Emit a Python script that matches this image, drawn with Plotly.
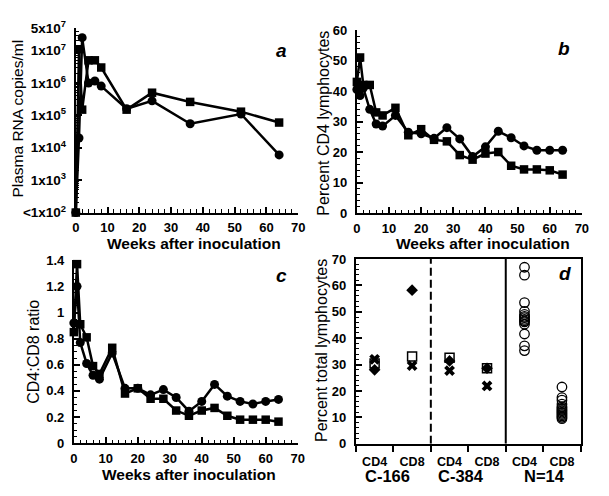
import plotly.graph_objects as go

# The page body has an 8px default margin, so the figure is placed at (8, 8)
OFF = 8
W, H = 609 - OFF, 496 - OFF
FONT = "Liberation Sans, Arial, Helvetica, sans-serif"

# ---------------- Data ----------------
# Panel a: plasma RNA copies/ml
weeks_a = [0, 1, 2, 4, 6, 8, 16, 24, 36, 52, 64]
rna_circle = [1e2, 2e4, 2.5e7, 1.0e6, 1.15e6, 8e5, 1.6e5, 2.8e5, 5.5e4, 1.1e5, 6e3]
rna_square = [1e2, 1.1e7, 1.5e5, 5e6, 5e6, 3e6, 1.5e5, 5e5, 2.6e5, 1.3e5, 6e4]
rna_tickvals = [1e2, 1e3, 1e4, 1e5, 1e6, 1e7, 5e7]
rna_ticktext = ["&lt;1x10<sup>2</sup>", "1x10<sup>3</sup>", "1x10<sup>4</sup>",
                "1x10<sup>5</sup>", "1x10<sup>6</sup>", "1x10<sup>7</sup>", "5x10<sup>7</sup>"]
week_ticks = [0, 10, 20, 30, 40, 50, 60, 70]

# Panel b / c
weeks_bc = [0, 1, 2, 4, 6, 8, 12, 16, 20, 24, 28, 32, 36, 40, 44, 48, 52, 56, 60, 64]
cd4_circle = [40.5, 38.5, 41, 34, 29.2, 28.5, 32, 26.5, 26, 24.5, 28, 24.3, 18.5, 21.7,
              26.8, 24.7, 22, 20.6, 20.6, 20.6]
cd4_square = [43, 51, 42, 42, 33, 32, 34.5, 25.5, 27.5, 24, 23.5, 19, 17.5, 19.5,
              20, 15.5, 14.3, 14.3, 14, 12.6]
cd4_ticks = [0, 10, 20, 30, 40, 50, 60]

ratio_circle = [0.92, 1.2, 0.77, 0.61, 0.52, 0.49, 0.69, 0.42, 0.42, 0.37, 0.41, 0.35,
                0.245, 0.32, 0.45, 0.36, 0.32, 0.30, 0.32, 0.335]
ratio_square = [0.85, 1.37, 0.91, 0.81, 0.59, 0.53, 0.73, 0.38, 0.42, 0.34, 0.34, 0.25,
                0.21, 0.25, 0.27, 0.21, 0.18, 0.18, 0.18, 0.165]
ratio_ticks = [0, 0.2, 0.4, 0.6, 0.8, 1.0, 1.2, 1.4]
ratio_ticktext = ["0", "0.2", "0.4", "0.6", "0.8", "1", "1.2", "1.4"]

# Panel d
d_tick_labels = ["CD4", "CD8", "CD4", "CD8", "CD4", "CD8"]
d_positions = [0.5, 1.5, 2.5, 3.5, 4.5, 5.5]
d_groups = ["C-166", "C-384", "N=14"]
animal_pos = [0.5, 1.5, 2.5, 3.5]
animal_x = [32.0, 29.6, 27.7, 21.9]
animal_square = [30.4, 33.1, 32.6, 28.6]
animal_diamond = [28.0, 58.2, 31.4, 28.6]
normal_cd4 = [66.9, 63.9, 53.5, 50.2, 49.0, 48.3, 47.8, 47.1, 46.6, 46.2, 45.3, 41.6, 37.1, 35.3]
normal_cd8 = [21.5, 17.5, 16.5, 15.0, 14.0, 13.5, 13.0, 12.5, 12.0, 11.5, 11.0, 10.5, 10.0, 9.5]
total_ticks = [0, 10, 20, 30, 40, 50, 60, 70]


def px_x(p):
    return (p - OFF) / W


def px_y(p):
    return 1 - (p - OFF) / H


def bold(labels):
    return ["<b>%s</b>" % str(t) for t in labels]


fig = go.Figure()

line_style = dict(color="black", width=2.5)


def series(x, y, symbol, xa, ya, size=9):
    fig.add_trace(go.Scatter(
        x=x, y=y, mode="lines+markers", line=line_style,
        marker=dict(symbol=symbol, size=size, color="black"),
        xaxis=xa, yaxis=ya, cliponaxis=False, showlegend=False))


series(weeks_a, rna_circle, "circle", "x", "y")
series(weeks_a, rna_square, "square", "x", "y", 8.5)
series(weeks_bc, cd4_circle, "circle", "x2", "y2")
series(weeks_bc, cd4_square, "square", "x2", "y2", 8.5)
series(weeks_bc, ratio_circle, "circle", "x3", "y3")
series(weeks_bc, ratio_square, "square", "x3", "y3", 8.5)

# panel d points
fig.add_trace(go.Scatter(x=animal_pos, y=animal_square, mode="markers",
                         marker=dict(symbol="square-open", size=9, color="black", line=dict(width=1.5)),
                         xaxis="x4", yaxis="y4", showlegend=False))
fig.add_trace(go.Scatter(x=animal_pos, y=animal_diamond, mode="markers",
                         marker=dict(symbol="diamond", size=9, color="black"),
                         xaxis="x4", yaxis="y4", showlegend=False))
fig.add_trace(go.Scatter(x=animal_pos, y=animal_x, mode="markers",
                         marker=dict(symbol="x", size=9.5, color="black", line=dict(width=0)),
                         xaxis="x4", yaxis="y4", showlegend=False))
fig.add_trace(go.Scatter(x=[d_positions[4]] * len(normal_cd4), y=normal_cd4, mode="markers",
                         marker=dict(symbol="circle-open", size=9.5, color="black", line=dict(width=1.3)),
                         xaxis="x4", yaxis="y4", showlegend=False))
fig.add_trace(go.Scatter(x=[d_positions[5]] * len(normal_cd8), y=normal_cd8, mode="markers",
                         marker=dict(symbol="circle-open", size=9.5, color="black", line=dict(width=1.3)),
                         xaxis="x4", yaxis="y4", showlegend=False))

tickfont = dict(family=FONT, size=13, color="black")
common = dict(showgrid=False, zeroline=False, showline=True, linecolor="black", linewidth=2,
              ticks="inside", tickcolor="black", tickwidth=1.5, ticklen=6, tickfont=tickfont,
              ticklabelstandoff=5)

week_axis = dict(common, range=[0, 70], tickvals=week_ticks, ticktext=bold(week_ticks),
                 ticklabelstandoff=2,
                 minor=dict(dtick=2, tick0=0, ticks="inside", ticklen=3.5, tickwidth=1.2, tickcolor="black"))

minor_log = [m * 10 ** e for e in range(2, 8) for m in range(2, 10) if m * 10 ** e < 5e7]

fig.update_layout(
    width=W, height=H, margin=dict(l=0, r=0, t=0, b=0),
    paper_bgcolor="white", plot_bgcolor="white", showlegend=False,
    xaxis=dict(week_axis, domain=[px_x(73), px_x(299.5)], anchor="y"),
    yaxis=dict(common, type="log", range=[2, 7.69897], domain=[px_y(210), px_y(18.3)], anchor="x",
               tickvals=rna_tickvals, ticktext=bold(rna_ticktext),
               tickfont=dict(tickfont, size=13.5),
               minor=dict(tickmode="array", tickvals=minor_log, ticks="inside", ticklen=3.5,
                          tickwidth=1.2, tickcolor="black")),
    xaxis2=dict(week_axis, domain=[px_x(359.3), px_x(588.5)], anchor="y2"),
    yaxis2=dict(common, range=[0, 60], tickvals=cd4_ticks, ticktext=bold(cd4_ticks),
                domain=[px_y(210.5), px_y(20.5)], anchor="x2",
                minor=dict(dtick=2, ticks="inside", ticklen=3.5, tickwidth=1.2, tickcolor="black")),
    xaxis3=dict(week_axis, domain=[px_x(71), px_x(299)], anchor="y3"),
    yaxis3=dict(common, range=[0, 1.4], tickvals=ratio_ticks, ticktext=bold(ratio_ticktext),
                domain=[px_y(449.5), px_y(259.5)], anchor="x3",
                minor=dict(dtick=0.05, ticks="inside", ticklen=3.5, tickwidth=1.2, tickcolor="black")),
    xaxis4=dict(common, range=[0, 6], domain=[px_x(358.3), px_x(587.3)], anchor="y4", mirror=True,
                tickvals=d_positions, ticktext=bold(d_tick_labels), ticks="", ticklabelstandoff=5,
                tickfont=dict(tickfont, size=12.5),
                minor=dict(tickmode="array", tickvals=[0, 1, 2, 3, 4, 5, 6], ticks="outside",
                           ticklen=6, tickwidth=1.5, tickcolor="black")),
    yaxis4=dict(common, range=[0, 70], tickvals=total_ticks, ticktext=bold(total_ticks),
                domain=[px_y(450), px_y(258.3)], anchor="x4", mirror=True,
                minor=dict(dtick=2, ticks="inside", ticklen=3.5, tickwidth=1.2, tickcolor="black")),
)

# separators in panel d
fig.add_shape(type="line", xref="x4", yref="y4", x0=2, x1=2, y0=0, y1=70,
              line=dict(color="black", width=2, dash="8px,4px"))
fig.add_shape(type="line", xref="x4", yref="y4", x0=4, x1=4, y0=0, y1=70,
              line=dict(color="black", width=2))

ann = []


def text(t, x, y, size, is_bold=False, italic=False, angle=0):
    ann.append(dict(text=t, x=px_x(x), y=px_y(y), xref="paper", yref="paper",
                    showarrow=False, textangle=angle, xanchor="center", yanchor="middle",
                    font=dict(family=FONT, size=size, color="black",
                              weight="bold" if is_bold else "normal",
                              style="italic" if italic else "normal")))


text("Plasma RNA copies/ml", 13.5, 112, 15.5, angle=-90)
text("Percent CD4 lymphocytes", 325, 117.5, 16, angle=-90)
text("CD4:CD8 ratio", 30, 355, 16, angle=-90)
text("Percent total lymphocytes", 324, 353.5, 16, angle=-90)
text("<b>Weeks after inoculation</b>", 193.5, 242.5, 15.5, is_bold=True)
text("<b>Weeks after inoculation</b>", 487.5, 242, 15.5, is_bold=True)
text("<b>Weeks after inoculation</b>", 188.5, 482, 15.5, is_bold=True)
text("<b><i>a</i></b>", 282.7, 41.7, 19, is_bold=True, italic=True)
text("<b><i>b</i></b>", 570.7, 39.3, 19, is_bold=True, italic=True)
text("<b><i>c</i></b>", 282.7, 275, 19, is_bold=True, italic=True)
text("<b><i>d</i></b>", 571.7, 273.3, 19, is_bold=True, italic=True)
for g, gx in zip(d_groups, [390.8, 465.8, 550.5]):
    text("<b>%s</b>" % g, gx, 483.5, 16.5, is_bold=True)

fig.update_layout(annotations=ann)

fig.write_html("out.html")
